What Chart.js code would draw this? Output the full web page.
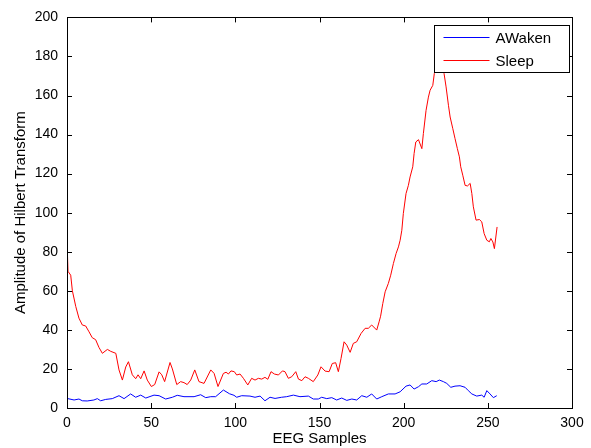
<!DOCTYPE html>
<html>
<head>
<meta charset="utf-8">
<script src="https://cdn.jsdelivr.net/npm/chart.js@4.4.0/dist/chart.umd.min.js"></script>
<style>
html,body{margin:0;padding:0;background:#fff;}
canvas{display:block;}
</style>
</head>
<body>
<canvas id="c" width="591" height="448"></canvas>
<script>
// ---- Data ----
const seriesNames = ["AWaken", "Sleep"];
const xTicks = [0, 50, 100, 150, 200, 250, 300];
const yTicks = [0, 20, 40, 60, 80, 100, 120, 140, 160, 180, 200];

const awakeX = [0,4.2,7.1,9.1,12,16,18,20,23,26.9,30.9,33.9,37.8,40.8,43.8,46.8,51.7,54.7,58.6,62.6,65.5,69.5,75.5,79.4,82.4,85.4,88.3,92.9,96.5,99.2,100.8,103.8,108.7,111.7,114.7,117.6,120.6,123.6,127.5,130.5,134.5,138.4,143.4,146.3,149.3,151.3,154.3,157.3,160.2,163.2,166.2,169.2,172.1,175.1,178.1,181,184,187,190.9,194.9,197.9,201.4,203.8,206.2,208.8,210.8,213.7,216.7,219.3,221.2,223.6,225.6,228,230.5,233.5,236.5,238.4,240.5,243.4,246.4,247.8,249.4,251.3,253.3,255.3];
const awakeY = [4.9,4.1,4.6,3.7,3.6,4.1,4.8,3.7,4.4,4.8,6.3,4.8,7.2,5.5,6.6,5.1,6.6,6.3,4.6,5.5,6.5,5.8,5.8,6.8,5.3,5.8,5.8,9.2,7.3,6.5,5.5,6.3,6.1,5.5,6.1,3.7,5.5,4.9,5.5,5.8,6.6,5.8,6.1,4.6,4.6,5.5,4.8,5.3,4.1,5.1,3.9,4.6,4.1,6.3,5.5,7.2,4.6,5.8,7.2,7.2,8.3,11.2,11.8,9.7,10.9,12.3,12.3,14,13.5,14.3,13.5,12.6,10.6,11.2,11.4,10.6,8.9,7.2,6.1,6.6,5.5,8.9,7.2,5.3,6.3];

const sleepX = [0,0.6,2.2,3.2,5.2,7.1,9.1,11.1,13.1,15,17,19,21,24,26,29,30.9,32.9,34.9,36.5,38.8,40.8,42.2,43.8,45.8,47.7,50.1,52.1,54.7,56.3,58,61.2,62.6,65.2,67.5,69.5,71.4,73.5,75.9,78.4,81.4,85.4,87.4,89.7,92.9,94.5,95.9,97.4,99.4,100.8,102.8,104.8,107.4,109.7,111.7,113.7,115.7,117.6,119.3,121.2,123.2,125.6,128,129.5,131.5,133.5,135.9,137.5,139.5,141.4,143.4,146.3,149,150.9,153.3,155.7,157.6,159.6,161.2,162.8,164.6,166.2,168.2,170.1,172.1,174.7,177.1,179,181,184,185.4,186.3,187.6,189,190.9,192.3,193.9,195.5,196.9,197.9,198.9,199.8,201.4,202.8,203.8,205.4,206.2,207.2,208.8,210.8,211.7,213.3,214.7,215.7,217.3,218.2,219.1,220.5,222,223.2,224,225.2,226.6,227.6,229.2,230.5,231.9,233.1,233.9,235.1,236.5,237.9,239.5,240.5,241.4,243,245,246.4,247.8,249.4,250.9,251.8,253,253.9,255.5];
const sleepY = [86,70,68,60,52,46,42.5,42,39,36,35,31,28,30,29,28,19.5,14.3,21,23.7,17,15,17,15,19,14.3,11,12,18.5,17,13.5,23.3,20,12,13.5,13,12,14.3,19.5,13.5,12.6,19.5,17.7,11,17.7,18.3,17.4,19,18.6,16.9,17.4,15.2,11.8,15.2,14.3,15.2,14.8,15.7,14.7,18.6,17.4,16.9,19,18.6,15.2,16,18.6,14.8,14,16,15.2,13.5,16.9,21.1,18.9,18.6,22.8,23.2,18.6,25.4,33.9,32.2,28.5,33.1,33.9,38.2,40.8,40.8,42.5,39.9,44.1,47,53.5,59.5,63.8,68,74,79.1,82.5,85.9,91,99.6,109.8,114,118.3,123.5,130.3,136.2,137.4,132.8,140.5,152.4,159.2,162.7,165.2,171.2,176.3,185,188,180,171.2,164.4,155,149,143,138,132.8,128.6,123.5,119.2,114,113.7,115,109.8,103,96.2,96.5,95.3,89.3,85.9,85.1,86.8,85,81.6,92.7];

const colors = ["#0000ff", "#ff0000"];

function toPoints(xs, ys){ return xs.map((x,i)=>({x:x, y:ys[i]})); }

const FONT = "'Liberation Sans', Arial, Helvetica, sans-serif";

const boxPlugin = {
  id: 'matlabBox',
  afterDatasetsDraw(chart){
    const {ctx, chartArea:a, scales} = chart;
    ctx.save();
    ctx.strokeStyle = '#000';
    ctx.lineWidth = 1;
    const tl = 5;
    ctx.beginPath();
    scales.x.ticks.forEach(t=>{
      const px = Math.round(scales.x.getPixelForValue(t.value)) + 0.5;
      ctx.moveTo(px, a.bottom); ctx.lineTo(px, a.bottom - tl);
      ctx.moveTo(px, a.top); ctx.lineTo(px, a.top + tl);
    });
    scales.y.ticks.forEach(t=>{
      const py = Math.round(scales.y.getPixelForValue(t.value)) + 0.5;
      ctx.moveTo(a.left, py); ctx.lineTo(a.left + tl, py);
      ctx.moveTo(a.right, py); ctx.lineTo(a.right - tl, py);
    });
    ctx.stroke();
    ctx.lineWidth = 1;
    ctx.strokeRect(Math.round(a.left)+0.5, Math.round(a.top)+0.5, Math.round(a.right-a.left), Math.round(a.bottom-a.top));

    // legend box (MATLAB style, inside the top-right corner)
    const lw = 135, lh = 47;
    const lx = Math.round(a.right - 3 - lw) + 0.5;
    const ly = Math.round(a.top + 8) + 0.5;
    ctx.fillStyle = '#fff';
    ctx.fillRect(lx, ly, lw, lh);
    ctx.strokeStyle = '#000';
    ctx.strokeRect(lx, ly, lw, lh);
    ctx.font = "15px " + FONT;
    ctx.textBaseline = 'middle';
    ctx.textAlign = 'left';
    chart.data.datasets.forEach((ds,i)=>{
      const yy = Math.round(ly + 11.5 + i*22.5) + 0.5;
      ctx.strokeStyle = ds.borderColor;
      ctx.beginPath();
      ctx.moveTo(lx + 9, yy); ctx.lineTo(lx + 55, yy);
      ctx.stroke();
      ctx.fillStyle = '#000';
      ctx.fillText(ds.label, lx + 61, yy + 1);
    });
    ctx.restore();
  }
};

new Chart(document.getElementById('c'), {
  type: 'line',
  data: {
    datasets: [
      { label: seriesNames[0], data: toPoints(awakeX, awakeY), borderColor: colors[0], borderWidth: 1, pointRadius: 0, tension: 0, fill: false },
      { label: seriesNames[1], data: toPoints(sleepX, sleepY), borderColor: colors[1], borderWidth: 1, pointRadius: 0, tension: 0, fill: false }
    ]
  },
  options: {
    responsive: false,
    animation: false,
    layout: { padding: { left: 0, top: 17, right: 19, bottom: 0 } },
    plugins: { legend: { display: false }, tooltip: { enabled: false } },
    scales: {
      x: {
        type: 'linear', min: 0, max: 300,
        afterFit(s){ s.height = 40; },
        afterBuildTicks(s){ s.ticks = xTicks.map(v=>({value:v})); },
        grid: { display: false, drawTicks: false },
        border: { display: false },
        ticks: { padding: 7, color: '#000', font: { family: FONT, size: 14 }, maxRotation: 0 },
        title: { display: true, text: 'EEG Samples', color: '#000', font: { family: FONT, size: 15 }, padding: { top: 0, bottom: 0 } }
      },
      y: {
        type: 'linear', min: 0, max: 200,
        afterFit(s){ s.width = 67; },
        afterBuildTicks(s){ s.ticks = yTicks.map(v=>({value:v})); },
        grid: { display: false, drawTicks: false },
        border: { display: false },
        ticks: { padding: 9, color: '#000', font: { family: FONT, size: 14 } },
        title: { display: true, text: 'Amplitude of Hilbert Transform', color: '#000', font: { family: FONT, size: 15 }, padding: { top: 12, bottom: 0 } }
      }
    }
  },
  plugins: [boxPlugin]
});
</script>
</body>
</html>
